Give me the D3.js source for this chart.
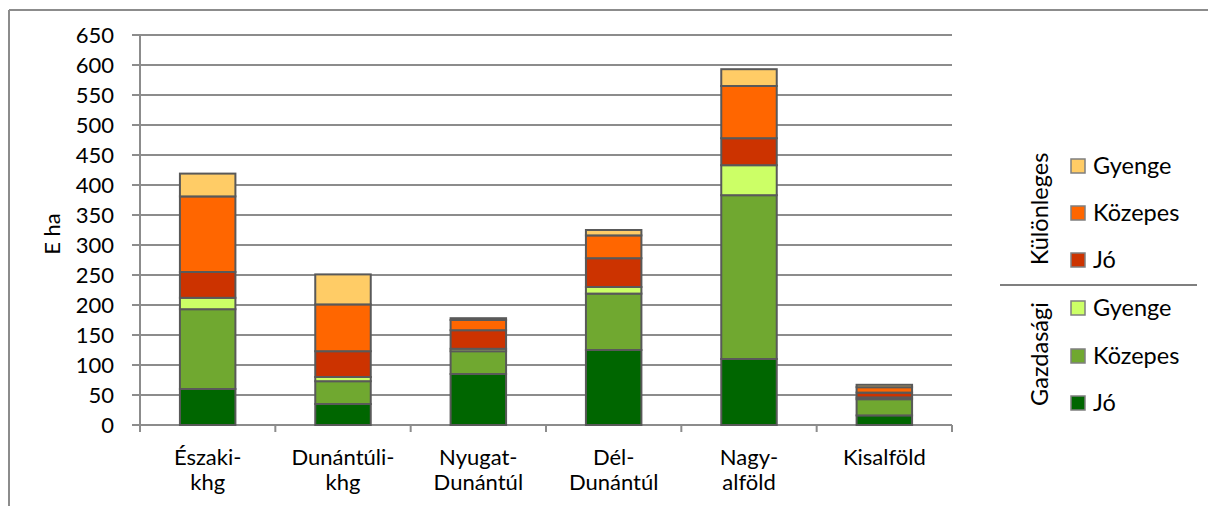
<!DOCTYPE html>
<html>
<head>
<meta charset="utf-8">
<script src="https://cdn.jsdelivr.net/npm/d3@7"></script>
<style>
  html, body { margin: 0; padding: 0; background: #fff; }
  svg { display: block; }
  text { font-family: Lato, "Open Sans", sans-serif; fill: #000; }
</style>
</head>
<body>
<svg id="chart" width="1208" height="506"></svg>
<script>
// ---- data ----
const categories = [["Északi-", "khg"], ["Dunántúli-", "khg"], ["Nyugat-", "Dunántúl"], ["Dél-", "Dunántúl"], ["Nagy-", "alföld"], ["Kisalföld"]];
const gazdasagiJo      = [60, 35, 85, 125, 110, 16];
const gazdasagiKozepes = [133, 38, 38, 94, 273, 27];
const gazdasagiGyenge  = [19, 7, 4, 11, 50, 3];
const kulonlegesJo      = [43, 43, 31, 48, 45, 8];
const kulonlegesKozepes = [126, 78, 17, 38, 87, 9];
const kulonlegesGyenge  = [38, 50, 3, 9, 28, 4];
const yTicks = [0, 50, 100, 150, 200, 250, 300, 350, 400, 450, 500, 550, 600, 650];
const seriesNames = ["Jó", "Közepes", "Gyenge", "Jó", "Közepes", "Gyenge"];
const groupNames = ["Gazdasági", "Különleges"];
const yTitle = "E ha";

const seriesData = [gazdasagiJo, gazdasagiKozepes, gazdasagiGyenge, kulonlegesJo, kulonlegesKozepes, kulonlegesGyenge];
const colors = ["#006600", "#70A830", "#CCFF66", "#CC3300", "#FF6600", "#FFCC66"];

const svg = d3.select("#chart");
const font = 22;
const legendFont = 23.5;

// frame (cropped chart border)
svg.append("line").attr("x1", 9).attr("x2", 1208).attr("y1", 10).attr("y2", 10)
  .attr("stroke", "#8c8c8c").attr("stroke-width", 2);
svg.append("line").attr("x1", 9).attr("x2", 9).attr("y1", 10).attr("y2", 506)
  .attr("stroke", "#8c8c8c").attr("stroke-width", 2);

const x = d3.scaleBand().domain(d3.range(categories.length)).range([140, 952])
  .paddingInner(0.59).paddingOuter(0.295);
const y = d3.scaleLinear().domain([0, 650]).range([425, 35]);

// gridlines
svg.append("g").selectAll("line").data(yTicks).join("line")
  .attr("x1", 132).attr("x2", 952)
  .attr("y1", d => y(d)).attr("y2", d => y(d))
  .attr("stroke", "#8c8c8c").attr("stroke-width", 2);

// y axis line
svg.append("line").attr("x1", 140).attr("x2", 140).attr("y1", y(650)).attr("y2", y(0))
  .attr("stroke", "#8c8c8c").attr("stroke-width", 2);

// x ticks at band boundaries
const step = x.step();
svg.append("g").selectAll("line").data(d3.range(categories.length + 1)).join("line")
  .attr("x1", i => 140 + i * step).attr("x2", i => 140 + i * step)
  .attr("y1", y(0)).attr("y2", y(0) + 7)
  .attr("stroke", "#8c8c8c").attr("stroke-width", 2);

// y tick labels
svg.append("g").selectAll("text").data(yTicks).join("text")
  .attr("x", 114).attr("y", d => y(d)).attr("dy", "0.35em")
  .attr("text-anchor", "end").attr("font-size", font)
  .text(d => d);

// y title
svg.append("text")
  .attr("transform", `translate(52,${(y(0) + y(650)) / 2 + 4}) rotate(-90)`)
  .attr("text-anchor", "middle").attr("dy", "0.35em").attr("font-size", font)
  .text(yTitle);

// stacked bars
const stackInput = categories.map((c, i) => {
  const o = { i };
  seriesData.forEach((s, k) => { o["s" + k] = s[i]; });
  return o;
});
const stack = d3.stack().keys(seriesData.map((s, k) => "s" + k));
const layers = stack(stackInput);

svg.append("g").selectAll("g").data(layers).join("g")
  .attr("fill", (d, k) => colors[k])
  .selectAll("rect").data(d => d).join("rect")
  .attr("x", d => x(d.data.i))
  .attr("width", x.bandwidth())
  .attr("y", d => y(d[1]))
  .attr("height", d => y(d[0]) - y(d[1]))
  .attr("stroke", "#595959").attr("stroke-width", 2);

// category labels
const catG = svg.append("g");
categories.forEach((lines, i) => {
  const t = catG.append("text")
    .attr("x", x(i) + x.bandwidth() / 2)
    .attr("y", 465)
    .attr("text-anchor", "middle").attr("font-size", font);
  lines.forEach((ln, j) => {
    t.append("tspan").attr("x", x(i) + x.bandwidth() / 2).attr("dy", j === 0 ? 0 : 25).text(ln);
  });
});

// legend
const legendRows = [
  { k: 5, y: 166 }, { k: 4, y: 213 }, { k: 3, y: 260 },
  { k: 2, y: 308 }, { k: 1, y: 356 }, { k: 0, y: 403 }
];
const lg = svg.append("g");
legendRows.forEach(r => {
  lg.append("rect").attr("x", 1071).attr("y", r.y - 7).attr("width", 14).attr("height", 14)
    .attr("fill", colors[r.k]).attr("stroke", "#7f7f7f").attr("stroke-width", 1.5);
  lg.append("text").attr("x", 1093).attr("y", r.y).attr("dy", "0.35em")
    .attr("font-size", legendFont).text(seriesNames[r.k]);
});
lg.append("line").attr("x1", 1000).attr("x2", 1197).attr("y1", 285).attr("y2", 285)
  .attr("stroke", "#7f7f7f").attr("stroke-width", 2);
lg.append("text").attr("transform", "translate(1040,209) rotate(-90)")
  .attr("text-anchor", "middle").attr("dy", "0.35em").attr("font-size", legendFont)
  .text(groupNames[1]);
lg.append("text").attr("transform", "translate(1040,354) rotate(-90)")
  .attr("text-anchor", "middle").attr("dy", "0.35em").attr("font-size", legendFont)
  .text(groupNames[0]);
</script>
</body>
</html>
